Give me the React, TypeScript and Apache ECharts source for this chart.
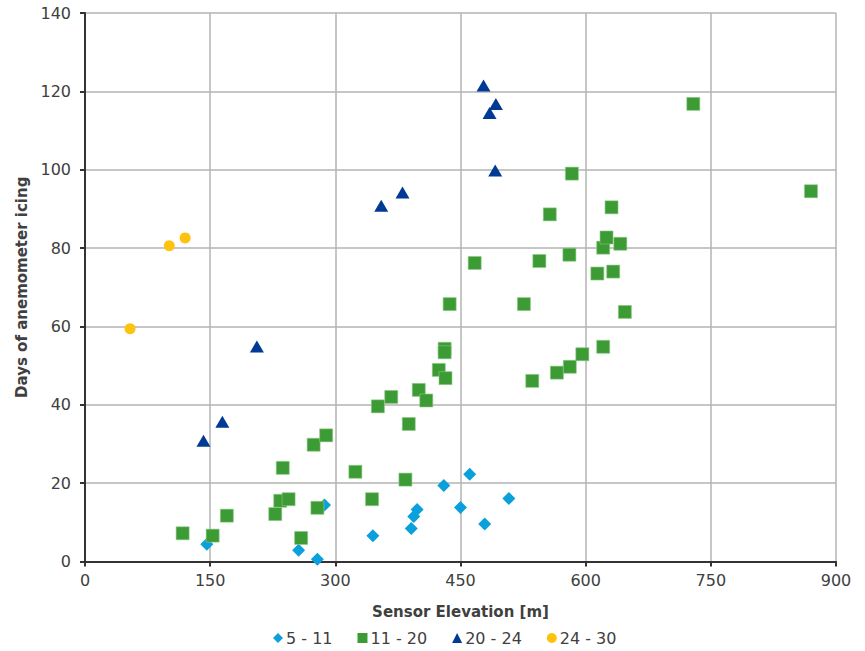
import React, { useEffect, useRef } from "react";
import * as echarts from "echarts";

const seriesNames = ["5 - 11", "11 - 20", "20 - 24", "24 - 30"];

const elev5to11 = [146, 256, 278.5, 287, 345, 391, 394, 398, 430, 450, 461, 479, 508];
const days5to11 = [4.4, 2.9, 0.6, 14.4, 6.6, 8.4, 11.5, 13.3, 19.4, 13.8, 22.3, 9.6, 16.1];

const elev11to20 = [117, 153, 170, 228, 234, 244, 237, 259, 278.5, 274, 289, 324, 344, 351, 367, 388, 384, 400, 409, 424, 432, 431, 431, 437, 467, 526, 536, 544.5, 557, 565.5, 581, 596, 580.5, 583.5, 614, 621, 621, 625, 631, 633, 641.5, 647, 729, 870];
const days11to20 = [7.2, 6.6, 11.7, 12.1, 15.5, 15.9, 23.9, 6.0, 13.7, 29.8, 32.2, 22.9, 15.9, 39.6, 42.0, 35.1, 20.9, 43.8, 41.1, 48.9, 46.8, 54.3, 53.4, 65.7, 76.2, 65.7, 46.1, 76.7, 88.6, 48.2, 49.7, 52.9, 78.3, 99.0, 73.5, 54.8, 80.1, 82.7, 90.4, 74.0, 81.1, 63.7, 116.8, 94.5];

const elev20to24 = [142, 164.6, 206, 355, 380.5, 477.6, 492.4, 484.8, 491.6];
const days20to24 = [30.8, 35.7, 54.9, 90.8, 94.2, 121.5, 116.8, 114.5, 99.8];

const elev24to30 = [54, 101, 120];
const days24to30 = [59.4, 80.6, 82.6];

const xTicks = { min: 0, max: 900, interval: 150 };
const yTicks = { min: 0, max: 140, interval: 20 };

const pairs = (xs: number[], ys: number[]) => xs.map((x, i) => [x, ys[i]]);

export default function App() {
  const ref = useRef<HTMLDivElement>(null);
  useEffect(() => {
    document.body.style.margin = "0";
    if (!ref.current) return;
    const chart = echarts.init(ref.current, undefined, { renderer: "svg" });
    const font = "'DejaVu Sans', Verdana, sans-serif";
    const textColor = "#404040";
    chart.setOption({
      animation: false,
      backgroundColor: "#ffffff",
      textStyle: { fontFamily: font },
      grid: { left: 85, top: 13, right: 29, bottom: 89.5, containLabel: false },
      legend: {
        left: 273,
        top: 630,
        padding: 0,
        itemWidth: 10,
        itemHeight: 10,
        itemGap: 25,
        itemStyle: { borderWidth: 0 },
        textStyle: { fontFamily: font, fontSize: 16, color: textColor, padding: [0, 0, 0, -2] },
        data: [
          { name: seriesNames[0], icon: "diamond" },
          { name: seriesNames[1], icon: "rect" },
          { name: seriesNames[2], icon: "triangle" },
          { name: seriesNames[3], icon: "circle" },
        ],
      },
      xAxis: {
        type: "value",
        min: xTicks.min,
        max: xTicks.max,
        interval: xTicks.interval,
        name: "Sensor Elevation [m]",
        nameLocation: "middle",
        nameGap: 43,
        nameTextStyle: { fontFamily: font, fontSize: 15, fontWeight: "bold", color: textColor },
        axisLine: { show: true, onZero: false, lineStyle: { color: "#333333", width: 2 } },
        axisTick: { show: true, length: 5, lineStyle: { color: "#333333", width: 2 } },
        axisLabel: { fontFamily: font, fontSize: 16, color: textColor, margin: 11 },
        splitLine: { show: true, lineStyle: { color: "#b3b3b3", width: 1.5 } },
      },
      yAxis: {
        type: "value",
        min: yTicks.min,
        max: yTicks.max,
        interval: yTicks.interval,
        name: "Days of anemometer icing",
        nameLocation: "middle",
        nameGap: 51,
        nameTextStyle: { fontFamily: font, fontSize: 15, fontWeight: "bold", color: textColor },
        axisLine: { show: true, onZero: false, lineStyle: { color: "#333333", width: 2 } },
        axisTick: { show: true, length: 5, lineStyle: { color: "#333333", width: 2 } },
        axisLabel: { fontFamily: font, fontSize: 16, color: textColor, margin: 14 },
        splitLine: { show: true, lineStyle: { color: "#b3b3b3", width: 1.5 } },
      },
      series: [
        {
          name: seriesNames[0],
          type: "scatter",
          symbol: "diamond",
          symbolSize: 13,
          itemStyle: { color: "#0aa0dc", opacity: 1 },
          data: pairs(elev5to11, days5to11),
        },
        {
          name: seriesNames[1],
          type: "scatter",
          symbol: "rect",
          symbolSize: 13,
          itemStyle: { color: "#3d9b35", borderColor: "#8cc985", borderWidth: 0.6, opacity: 1 },
          data: pairs(elev11to20, days11to20),
        },
        {
          name: seriesNames[2],
          type: "scatter",
          symbol: "triangle",
          symbolSize: [14, 12],
          itemStyle: { color: "#003a94", opacity: 1 },
          data: pairs(elev20to24, days20to24),
        },
        {
          name: seriesNames[3],
          type: "scatter",
          symbol: "circle",
          symbolSize: 11,
          itemStyle: { color: "#ffc20e", opacity: 1 },
          data: pairs(elev24to30, days24to30),
        },
      ],
    });
    return () => chart.dispose();
  }, []);
  return <div ref={ref} style={{ width: 865, height: 651 }} />;
}
